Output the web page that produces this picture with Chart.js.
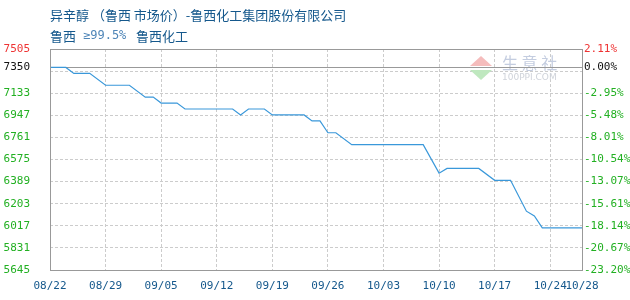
<!DOCTYPE html>
<html>
<head>
<meta charset="utf-8">
<script src="https://cdn.jsdelivr.net/npm/chart.js@4"></script>
<style>
html,body{margin:0;padding:0;background:#fff;}
canvas{display:block;}
</style>
</head>
<body>
<canvas id="c" width="630" height="300"></canvas>
<script>
const titleLine1 = '异辛醇 （鲁西 市场价）-鲁西化工集团股份有限公司';
const titleLine2 = ['鲁西', '≥99.5%', '鲁西化工'];
const startDate = '08/22';
const dates = ['08/22','08/24','08/25','08/27','08/29','09/01','09/03','09/04','09/05','09/07','09/08','09/14','09/15','09/16','09/18','09/19','09/23','09/24','09/25','09/26','09/27','09/29','10/08','10/10','10/11','10/15','10/17','10/19','10/21','10/22','10/23','10/28'];
const prices = [7350,7350,7300,7300,7200,7200,7100,7100,7050,7050,7000,7000,6950,7000,7000,6950,6950,6900,6900,6800,6800,6700,6700,6460,6500,6500,6400,6400,6140,6100,6000,6000];
const xTickLabels = ['08/22','08/29','09/05','09/12','09/19','09/26','10/03','10/10','10/17','10/24','10/28'];
const yTicks = [7505,7350,7319,7133,6947,6761,6575,6389,6203,6017,5831,5645];
const yTickLabels = ['7505','7350','','7133','6947','6761','6575','6389','6203','6017','5831','5645'];
const pctLabels = ['2.11%','0.00%','','-2.95%','-5.48%','-8.01%','-10.54%','-13.07%','-15.61%','-18.14%','-20.67%','-23.20%'];
const basePrice = 7350;

function dayIndex(md){
  const [m,d] = md.split('/').map(Number);
  const t = Date.UTC(2019, m-1, d);
  const [m0,d0] = startDate.split('/').map(Number);
  return Math.round((t - Date.UTC(2019, m0-1, d0)) / 86400000);
}

const RED = '#ee3333', GREEN = '#22b022', BLACK = '#111111';
function tickColor(v){ return v === yTicks[0] ? RED : (v === basePrice ? BLACK : GREEN); }
const tickFont = {family:'DejaVu Sans Mono', size:11};

const framePlugin = {
  id:'frame',
  beforeDatasetsDraw(chart){
    const ctx = chart.ctx, a = chart.chartArea;
    // watermark
    ctx.save();
    ctx.fillStyle = '#f5bcbc';
    ctx.beginPath(); ctx.moveTo(481,56); ctx.lineTo(492,66); ctx.lineTo(470,66); ctx.closePath(); ctx.fill();
    ctx.fillStyle = '#bfe8bf';
    ctx.beginPath(); ctx.moveTo(470,70); ctx.lineTo(492,70); ctx.lineTo(481,80); ctx.closePath(); ctx.fill();
    ctx.fillStyle = '#c4cde0';
    ctx.font = '16px "Noto Sans CJK SC"';
    ctx.textBaseline = 'middle'; ctx.textAlign = 'left';
    ctx.fillText('生 意 社', 502, 63);
    ctx.font = '9px "DejaVu Sans"';
    ctx.fillStyle = '#cfd3da';
    ctx.fillText('100PPI.COM', 502, 78);
    // baseline
    const y = Math.round(chart.scales.y.getPixelForValue(basePrice)) + 0.5;
    ctx.strokeStyle = '#999999'; ctx.lineWidth = 1;
    ctx.beginPath(); ctx.moveTo(a.left, y); ctx.lineTo(a.right, y); ctx.stroke();
    ctx.restore();
  },
  afterDraw(chart){
    const ctx = chart.ctx, a = chart.chartArea;
    ctx.save();
    ctx.strokeStyle = '#999999'; ctx.lineWidth = 1;
    ctx.strokeRect(Math.round(a.left)+0.5, Math.round(a.top)+0.5, Math.round(a.right-a.left), Math.round(a.bottom-a.top));
    ctx.fillStyle = '#15588c';
    ctx.textBaseline = 'middle'; ctx.textAlign = 'left';
    ctx.font = '13px "Noto Sans CJK SC"';
    ctx.fillText(titleLine1, 50, 15);
    ctx.fillText(titleLine2[0], 50, 36);
    ctx.fillText(titleLine2[2], 136, 36);
    ctx.font = '12px "DejaVu Sans Mono"';
    ctx.fillStyle = '#4f86b8';
    ctx.fillText(titleLine2[1], 83, 36);
    ctx.restore();
  }
};

new Chart(document.getElementById('c'), {
  type:'line',
  data:{
    datasets:[{
      data: dates.map((d,i)=>({x:dayIndex(d), y:prices[i]})),
      borderColor:'#3a98da', borderWidth:1.2, pointRadius:0, tension:0, fill:false
    }]
  },
  options:{
    responsive:false, animation:false, devicePixelRatio:1,
    layout:{padding:{top:49, right:0, left:0, bottom:0}},
    plugins:{legend:{display:false}, tooltip:{enabled:false}},
    scales:{
      x:{
        type:'linear', min:dayIndex(xTickLabels[0]), max:dayIndex(xTickLabels[xTickLabels.length-1]),
        afterBuildTicks(s){ s.ticks = xTickLabels.map(l=>({value:dayIndex(l)})); },
        afterFit(s){ s.height = 30; },
        ticks:{autoSkip:false, maxRotation:0, padding:10, color:'#15588c', font:tickFont,
          callback(v){ const i = xTickLabels.findIndex(l=>dayIndex(l)===v); return i>=0 ? xTickLabels[i] : ''; }},
        grid:{color:'#cccccc', drawTicks:false, lineWidth:1},
        border:{display:false, dash:[3,2]}
      },
      y:{
        position:'left', min:yTicks[yTicks.length-1], max:yTicks[0],
        afterBuildTicks(s){ s.ticks = yTicks.map(v=>({value:v})); },
        afterFit(s){ s.width = 50; },
        ticks:{autoSkip:false, padding:20, font:tickFont,
          color(c){ return tickColor(c.tick.value); },
          callback(v){ return yTickLabels[yTicks.indexOf(v)]; }},
        grid:{drawTicks:false, lineWidth:1, color(c){ return (c.tick && c.tick.value===basePrice) ? 'rgba(0,0,0,0)' : '#cccccc'; }},
        border:{display:false, dash:[3,2]}
      },
      y2:{
        position:'right', min:yTicks[yTicks.length-1], max:yTicks[0],
        afterBuildTicks(s){ s.ticks = yTicks.map(v=>({value:v})); },
        afterFit(s){ s.width = 48; },
        ticks:{autoSkip:false, padding:2, font:tickFont,
          color(c){ return tickColor(c.tick.value); },
          callback(v){ return pctLabels[yTicks.indexOf(v)]; }},
        grid:{display:false, drawTicks:false},
        border:{display:false}
      }
    }
  },
  plugins:[framePlugin]
});
</script>
</body>
</html>
